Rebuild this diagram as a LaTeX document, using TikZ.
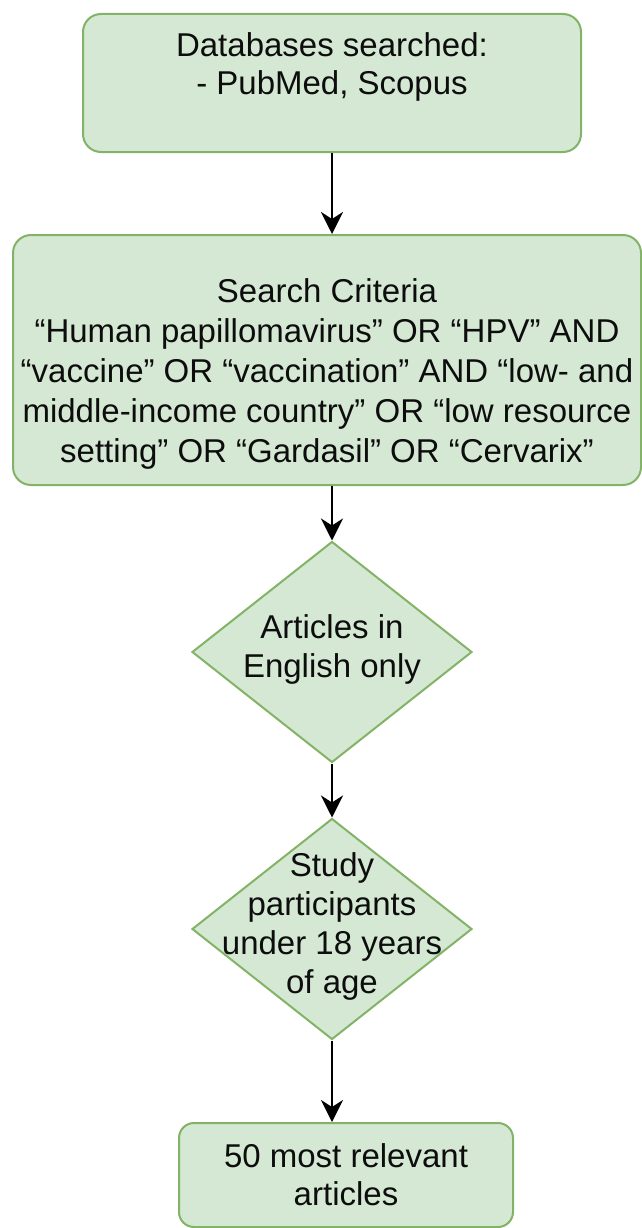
\documentclass[tikz,border=0pt]{standalone}
\usepackage{fontspec}
\setmainfont{Liberation Sans}
\usepackage{tikz}
\usepackage{xcolor}
\usetikzlibrary{positioning,arrows.meta,shapes.geometric}
\definecolor{boxgreen}{HTML}{D5E8D4}
\definecolor{boxedge}{HTML}{82B366}

\begin{document}
\begin{tikzpicture}[x=1pt, y=-1pt,
  box/.style={draw=boxedge, fill=boxgreen, line width=2pt, rounded corners=18pt, inner sep=0pt, align=center, text=black!95, font=\fontsize{33}{38}\selectfont},
  dia/.style={draw=boxedge, fill=boxgreen, line width=2pt, diamond, inner sep=0pt, minimum width=280pt, minimum height=221pt},
  lbl/.style={align=center, text=black!95, font=\fontsize{33}{39}\selectfont, yshift=3pt},
  arr/.style={-{Stealth[length=22pt, width=22pt, inset=7pt]}, line width=2.5pt}
]
\useasboundingbox (0,0) rectangle (642,1228);
\node[box, minimum width=498pt, minimum height=138pt] (D) at (332,83) {Databases searched:\\- PubMed, Scopus\\\mbox{}};
\node[box, minimum width=628pt, minimum height=250pt, font=\fontsize{33}{40}\selectfont] (S) at (327,360) {\rule{0pt}{52pt}Search Criteria\\“Human papillomavirus” OR “HPV” AND\\“vaccine” OR “vaccination” AND “low- and\\middle-income country” OR “low resource\\setting” OR “Gardasil” OR “Cervarix”};
\node[dia, label={[lbl]center:{Articles in\\English only}}] (A) at (332,652) {};
\node[dia, label={[lbl]center:{Study\\participants\\under 18 years\\of age}}] (B) at (332,929) {};
\node[box, minimum width=334pt, minimum height=104pt, rounded corners=15pt] (F) at (346,1175) {50 most relevant\\articles};
\draw[arr] (D.south) -- (D.south |- S.north);
\draw[arr] (S.south -| A.north) -- (A.north);
\draw[arr] (A) -- (B);
\draw[arr] (B.south) -- (B.south |- F.north);
\end{tikzpicture}
\end{document}
